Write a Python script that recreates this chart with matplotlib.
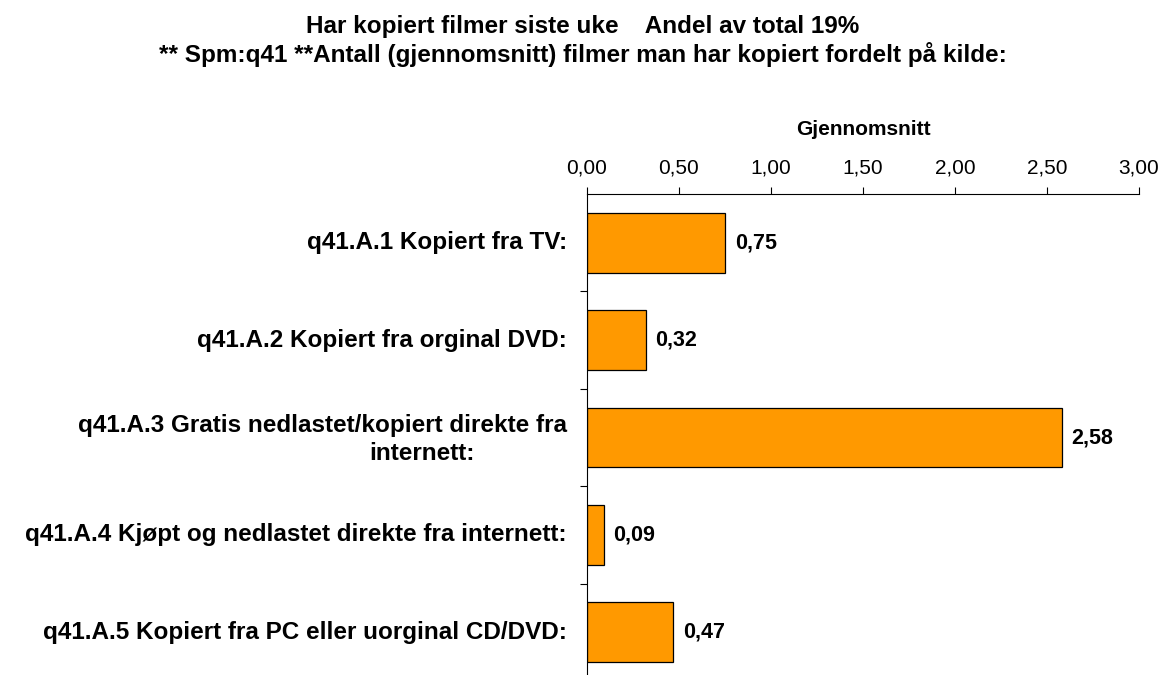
import matplotlib
matplotlib.use("Agg")
import matplotlib.pyplot as plt
from matplotlib.ticker import FuncFormatter, MultipleLocator
from matplotlib.transforms import blended_transform_factory, offset_copy

plt.rcParams['font.family'] = ['Liberation Sans', 'DejaVu Sans']

# data
kategorier = [
    "q41.A.1 Kopiert fra TV:",
    "q41.A.2 Kopiert fra orginal DVD:",
    "q41.A.3 Gratis nedlastet/kopiert direkte fra",
    "q41.A.4 Kjøpt og nedlastet direkte fra internett:",
    "q41.A.5 Kopiert fra PC eller uorginal CD/DVD:",
]
gjennomsnitt = [0.75, 0.32, 2.58, 0.09, 0.47]
tittel_linjer = ["Har kopiert filmer siste uke    Andel av total 19%",
                 "** Spm:q41 **Antall (gjennomsnitt) filmer man har kopiert fordelt på kilde:"]

fig = plt.figure(figsize=(11.6, 6.75), dpi=100)
ax = fig.add_axes([0.506, -0.009, 0.4759, 0.7216])

pos = list(range(len(kategorier)))
ax.barh(pos, gjennomsnitt, height=0.615, color="#FF9900", edgecolor="black", linewidth=0.9)
ax.set_ylim(len(kategorier) - 0.5, -0.5)
ax.set_xlim(0, 3.0)

# x-akse oppe
ax.xaxis.set_ticks_position("top")
ax.xaxis.set_major_locator(MultipleLocator(0.5))
ax.xaxis.set_major_formatter(FuncFormatter(lambda v, p: f"{v:.2f}".replace(".", ",")))
ax.tick_params(axis="x", direction="out", length=5, width=0.8, labelsize=15, pad=7)
ax.text(0.5, 1.121, "Gjennomsnitt", transform=ax.transAxes, ha="center", va="baseline",
        fontsize=15, fontweight="bold")

# y-akse: streker mellom kategoriene
ax.set_yticks([p + 0.5 for p in pos[:-1]])
ax.set_yticklabels([])
ax.tick_params(axis="y", direction="out", length=5, width=0.8)

for s in ["right", "bottom"]:
    ax.spines[s].set_visible(False)
for s in ["left", "top"]:
    ax.spines[s].set_linewidth(0.8)

# kategorietiketter
tr = blended_transform_factory(ax.transAxes, ax.transData)
for i, navn in enumerate(kategorier):
    if i == 2:
        ax.text(-0.036, i, navn, transform=offset_copy(tr, fig=fig, y=12, units="dots"),
                ha="right", va="center", fontsize=17.5, fontweight="bold")
        ax.text(-0.299, i, "internett:", transform=offset_copy(tr, fig=fig, y=-16, units="dots"),
                ha="center", va="center", fontsize=17.5, fontweight="bold")
    else:
        ax.text(-0.036, i, navn, transform=tr, ha="right", va="center",
                fontsize=17.5, fontweight="bold")

# verdier
for i, v in enumerate(gjennomsnitt):
    ax.annotate(f"{v:.2f}".replace(".", ","), (v, i), xytext=(7, 0), textcoords="offset points",
                ha="left", va="center", fontsize=15.5, fontweight="bold")

fig.text(0.5026, 0.951, tittel_linjer[0], ha="center", va="baseline", fontsize=17.5, fontweight="bold")
fig.text(0.5026, 0.908, tittel_linjer[1], ha="center", va="baseline", fontsize=17.5, fontweight="bold")

fig.savefig("out.png", dpi=100)
